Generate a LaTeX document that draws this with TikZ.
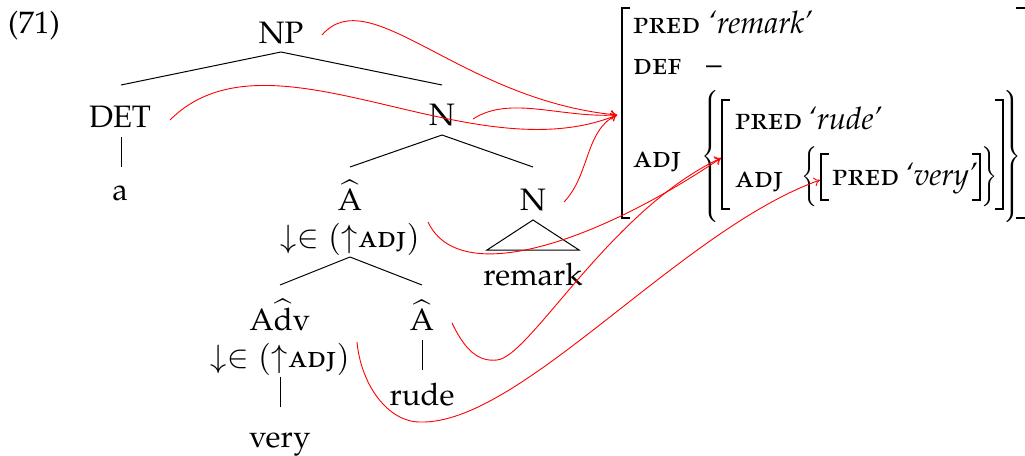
\documentclass[tikz,border=0pt]{standalone}
\usepackage[T1]{fontenc}
\usepackage[sc]{mathpazo}
\usetikzlibrary{arrows.meta,calc}
\delimiterfactor=1000
\delimitershortfall=0pt
\newcommand{\dlm}[2]{{\fontsize{20}{24}\selectfont$\left#1\vcenter{\hbox{\rule{0pt}{#2}}}\right.\kern-\nulldelimiterspace$}}
\newcommand{\fdown}{${\downarrow}{\in}\;(\mathord{\uparrow}\mbox{\textsc{adj}})$}
\begin{document}
\begin{tikzpicture}[x=1pt,y=-1pt,
  every node/.style={inner sep=0pt, font=\fontsize{31}{37}\selectfont},
  tl/.style={line width=1pt},
  brk/.style={line width=1.8pt},
  link/.style={red, line width=0.9pt, -{To[length=6pt,width=9pt]}}]
\useasboundingbox (0,0) rectangle (1025,455);
% tree
\node[anchor=base] (ex) at (34,33) {(71)};
\node[anchor=base] (np) at (281,43) {NP};
\node[anchor=base] (det) at (120,127) {DET};
\node[anchor=base] (a) at (120,200) {a};
\node[anchor=base] (n1) at (442,125) {N};
\node[anchor=base] (ah1) at (350,210) {$\widehat{\mathrm{A}}$};
\node[anchor=base] (f1) at (350,247) {\fdown};
\node[anchor=base] (n2) at (533,210) {N};
\node[anchor=base] (rem) at (533,285) {remark};
\node[anchor=base] (adv) at (280,330) {$\mathrm{A}\widehat{\mathrm{d}}\mathrm{v}$};
\node[anchor=base] (f2) at (280,367) {\fdown};
\node[anchor=base] (very) at (280,447) {very};
\node[anchor=base] (ah2) at (422,330) {$\widehat{\mathrm{A}}$};
\node[anchor=base] (rude) at (422,405) {rude};
\draw[tl] ($(np.base)+(0,9)$) -- ($(det.base)+(1,-42)$);
\draw[tl] ($(np.base)+(0,9)$) -- ($(n1.base)+(0,-40)$);
\draw[tl] ($(det.base)+(1,10)$) -- ($(a.base)+(1,-33)$);
\draw[tl] ($(n1.base)+(0,10)$) -- ($(ah1.base)+(0,-43)$);
\draw[tl] ($(n1.base)+(0,10)$) -- ($(n2.base)+(0,-43)$);
\draw[tl] ($(n2.base)+(0,10)$) -- ($(rem.base)+(-46,-35)$) -- ($(rem.base)+(46,-35)$) -- cycle;
\draw[tl] ($(f1.base)+(0,10)$) -- ($(adv.base)+(0,-45)$);
\draw[tl] ($(f1.base)+(0,10)$) -- ($(ah2.base)+(0,-45)$);
\draw[tl] ($(f2.base)+(0,10)$) -- ($(very.base)+(0,-40)$);
\draw[tl] ($(ah2.base)+(0,10)$) -- ($(rude.base)+(0,-35)$);
% AVM
\node[anchor=base west] (p0) at (633,33) {\textsc{pred}};
\node[anchor=base west] (v0) at (708,33) {\textit{`remark'}};
\node[anchor=base west] (d0) at (633,74) {\textsc{def}};
\node[anchor=base west] (dv) at (706,74) {--};
\node[anchor=base west] (adj0) at (633,167) {\textsc{adj}};
\node[anchor=base west] (p1) at (735,129) {\textsc{pred}};
\node[anchor=base west] (v1) at (808,129) {\textit{`rude'}};
\node[anchor=base west] (adj1) at (735,187) {\textsc{adj}};
\node[anchor=base west] (p2) at (832,185) {\textsc{pred}};
\node[anchor=base west] (v2) at (905,185) {\textit{`very'}};
\draw[brk] (630,8) -- (622,8) -- (622,218) -- (630,218);
\draw[brk] (1016,8) -- (1026,8) -- (1026,218) -- (1016,218);
\draw[brk] (730,100) -- (722,100) -- (722,209) -- (730,209);
\draw[brk] (995,100) -- (1003,100) -- (1003,209) -- (995,209);
\draw[brk] (829,154) -- (821,154) -- (821,200) -- (829,200);
\draw[brk] (972,154) -- (980,154) -- (980,200) -- (972,200);
\node (lb1) at (710,156) {\dlm{\{}{120pt}};
\node (rb1) at (1012,156) {\dlm{\}}{120pt}};
\node (lb2) at (810,177) {\dlm{\{}{54pt}};
\node (rb2) at (990,177) {\dlm{\}}{54pt}};
\coordinate (t0) at (617,115);
\coordinate (t1) at (721,158);
\coordinate (t2) at (820,180);
% links
\draw[link] ($(np.base)+(41,-8)$) .. controls (370,-20) and (460,100) .. (t0);
\draw[link] ($(det.base)+(50,-7)$) .. controls (270,20) and (470,175) .. (t0);
\draw[link] ($(n1.base)+(31,-6)$) .. controls (510,95) and (560,118) .. (t0);
\draw[link] ($(n2.base)+(31,-8)$) .. controls (590,175) and (585,130) .. (t0);
\draw[link] ($(ah1.base)+(78,12)$) .. controls (460,290) and (600,240) .. (t1);
\draw[link] ($(ah2.base)+(30,-7)$) .. controls (465,350) and (478,362) .. (497,360) .. controls (530,357) and (610,210) .. (t1);
\draw[link] ($(adv.base)+(77,12)$) .. controls (361,385) and (388,422) .. (420,422) .. controls (520,425) and (680,230) .. (t2);
\end{tikzpicture}
\end{document}
